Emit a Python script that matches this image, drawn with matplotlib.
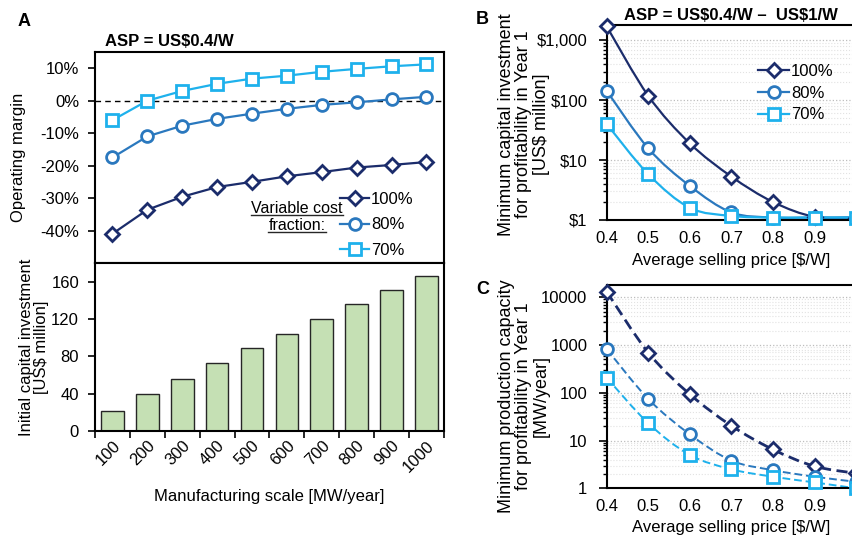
import numpy as np
import matplotlib
matplotlib.use('Agg')
import matplotlib.pyplot as plt
from matplotlib.path import Path
from matplotlib.patches import PathPatch
from matplotlib.lines import Line2D
from matplotlib.ticker import FixedLocator, FixedFormatter, LogLocator, NullFormatter

plt.rcParams['font.family'] = ['Liberation Sans', 'DejaVu Sans']
plt.rcParams['font.size'] = 12

# ---- data ----
scale = [100, 200, 300, 400, 500, 600, 700, 800, 900, 1000]
capex = [21.5, 40, 56, 73, 89, 104, 120, 136, 151, 166]
margin_100 = [-41, -33.6, -29.6, -26.6, -25, -23.3, -22, -20.6, -19.8, -18.9]
margin_80 = [-17.5, -11, -7.7, -5.6, -4, -2.5, -1.3, -0.5, 0.4, 1.2]
margin_70 = [-6, 0, 3, 5.2, 6.8, 7.7, 8.9, 9.8, 10.6, 11.2]

asp = [0.4, 0.5, 0.6, 0.7, 0.8, 0.9, 1.0]
inv_100 = [1700, 118, 19, 5.3, 2.0, 1.13, 1.1]
inv_80 = [143, 15.7, 3.7, 1.34, 1.1, 1.1, 1.1]
inv_70 = [40, 5.8, 1.6, 1.17, 1.1, 1.1, 1.1]
cap_100 = [13000, 690, 93, 20.4, 6.5, 2.9, 2.06]
cap_80 = [820, 74, 13.5, 3.8, 2.4, 1.75, 1.37]
cap_70 = [206, 23, 5.0, 2.5, 1.75, 1.33, 1.0]

labels = ['100%', '80%', '70%']
colors = ['#1B2C6B', '#2A78BE', '#1EB1EC']
markers = ['D', 'o', 's']
msizes = [7, 8.5, 8]


def smooth_log(ax, x, y, **kw):
    # excel-like smoothed line, bezier built in (x, log y) space
    x = np.asarray(x, float)
    ly = np.log10(np.asarray(y, float))
    px = np.concatenate([[x[0]], x, [x[-1]]])
    py = np.concatenate([[ly[0]], ly, [ly[-1]]])
    verts = [(x[0], ly[0])]
    codes = [Path.MOVETO]
    for i in range(len(x) - 1):
        c1 = (px[i+1] + (px[i+2] - px[i]) / 6, py[i+1] + (py[i+2] - py[i]) / 6)
        c2 = (px[i+2] - (px[i+3] - px[i+1]) / 6, py[i+2] - (py[i+3] - py[i+1]) / 6)
        verts += [c1, c2, (px[i+2], py[i+2])]
        codes += [Path.CURVE4] * 3
    verts = np.array(verts)
    verts[:, 1] = 10 ** verts[:, 1]
    ax.add_patch(PathPatch(Path(verts, codes), fill=False, **kw))


fig = plt.figure(figsize=(8.53, 5.4), dpi=100)

# ---- panel A top: operating margin ----
axA = fig.add_axes([0.1114, 0.5130, 0.409, 0.3907])
xi = np.arange(len(scale))
for m, c, mk, ms in zip([margin_100, margin_80, margin_70], colors, markers, msizes):
    axA.plot(xi, m, color=c, lw=1.6, marker=mk, ms=ms, mfc='white', mec=c, mew=2.0, zorder=3)
axA.axhline(0, color='black', ls=(0, (4, 3)), lw=1.0, zorder=1)
axA.set_xlim(-0.5, len(scale) - 0.5)
axA.set_ylim(-50, 15)
axA.set_yticks([-40, -30, -20, -10, 0, 10])
axA.set_yticklabels(['-40%', '-30%', '-20%', '-10%', '0%', '10%'])
axA.set_xticks([])
axA.tick_params(axis='y', direction='out', length=5, width=1.2, labelsize=12, pad=6.5)
axA.set_ylabel('Operating margin', fontsize=12)
axA.yaxis.set_label_coords(-0.198, 0.5)
for s in axA.spines.values():
    s.set_linewidth(1.5)

handles = [Line2D([], [], color=c, lw=1.6, marker=mk, ms=ms, mfc='white', mec=c, mew=2.0)
           for c, mk, ms in zip(colors, markers, msizes)]
axA.legend(handles, labels, loc='upper left', bbox_to_anchor=(0.702, 0.336), frameon=False,
           handlelength=1.75, handletextpad=0.1, labelspacing=0.62, fontsize=12, borderpad=0,
           borderaxespad=0)
t1 = axA.text(0.579, 0.258, 'Variable cost', transform=axA.transAxes, ha='center', va='center', fontsize=11.5)
t2 = axA.text(0.579, 0.178, 'fraction:', transform=axA.transAxes, ha='center', va='center', fontsize=11.5)

# ---- panel A bottom: initial capital ----
axA2 = fig.add_axes([0.1114, 0.2019, 0.409, 0.3111])
axA2.bar(xi, capex, width=0.65, color='#C5E0B4', edgecolor='#262626', lw=1.0, zorder=2)
axA2.set_xlim(-0.5, len(scale) - 0.5)
axA2.set_ylim(0, 180)
axA2.set_yticks([0, 40, 80, 120, 160])
axA2.xaxis.set_major_locator(FixedLocator(xi))
axA2.xaxis.set_major_formatter(FixedFormatter([str(s) for s in scale]))
axA2.xaxis.set_minor_locator(FixedLocator(np.arange(len(scale) + 1) - 0.5))
axA2.tick_params(axis='x', which='major', length=0, labelsize=12, pad=5)
axA2.tick_params(axis='x', which='minor', direction='out', length=5, width=1.2)
plt.setp(axA2.get_xticklabels(), rotation=45, ha='right', rotation_mode='anchor')
axA2.tick_params(axis='y', direction='out', length=5, width=1.2, labelsize=12, pad=6.5)
axA2.set_ylabel('Initial capital investment\n[US\\$ million]', fontsize=12, linespacing=1.0)
axA2.yaxis.set_label_coords(-0.132, 0.5)
axA2.set_xlabel('Manufacturing scale [MW/year]', fontsize=12, labelpad=10)
for s in axA2.spines.values():
    s.set_linewidth(1.5)


def log_grid(ax):
    ax.yaxis.set_minor_locator(LogLocator(base=10, subs=np.arange(2, 10)))
    ax.yaxis.set_minor_formatter(NullFormatter())
    ax.grid(True, which='major', axis='y', color='#BDBDBD', ls=':', lw=0.9)
    ax.grid(True, which='minor', axis='y', color='#E2E2E2', ls=':', lw=0.8)
    ax.set_axisbelow(True)
    ax.set_xlim(0.4, 1.0)
    ax.set_xticks(asp)
    ax.set_xticklabels(['0.4', '0.5', '0.6', '0.7', '0.8', '0.9', '1'])
    ax.tick_params(axis='x', length=0, labelsize=12, pad=8)
    ax.tick_params(axis='y', which='major', direction='out', length=6, width=1.2, labelsize=12, pad=8)
    ax.tick_params(axis='y', which='minor', direction='out', length=3, width=1.0)
    for s in ax.spines.values():
        s.set_linewidth(1.5)


# ---- panel B ----
axB = fig.add_axes([0.7113, 0.5926, 0.2923, 0.3611])
axB.set_yscale('log')
for d, c, mk, ms in zip([inv_100, inv_80, inv_70], colors, markers, msizes):
    smooth_log(axB, asp, d, edgecolor=c, lw=1.6, zorder=2)
    axB.plot(asp, d, ls='none', marker=mk, ms=ms, mfc='white', mec=c, mew=2.0, zorder=3, clip_on=False)
axB.set_ylim(1, 1800)
log_grid(axB)
axB.set_yticks([1, 10, 100, 1000])
axB.set_yticklabels(['\\$1', '\\$10', '\\$100', '\\$1,000'])
axB.set_ylabel('Minimum capital investment\nfor profitability in Year 1\n[US\\$ million]',
               fontsize=13, linespacing=1.05)
axB.yaxis.set_label_coords(-0.228, 0.49)
axB.set_xlabel('Average selling price [\\$/W]', fontsize=12, labelpad=5)
axB.legend(handles, labels, loc='upper left', bbox_to_anchor=(0.608, 0.80), frameon=False,
           handlelength=1.85, handletextpad=0.1, labelspacing=0.40, fontsize=12, borderpad=0,
           borderaxespad=0)

# ---- panel C ----
axC = fig.add_axes([0.7113, 0.0957, 0.2923, 0.3765])
axC.set_yscale('log')
for d, c, mk, ms, lw in zip([cap_100, cap_80, cap_70], colors, markers, msizes, [2.0, 1.4, 1.4]):
    smooth_log(axC, asp, d, edgecolor=c, lw=lw, ls=(0, (4, 2)), zorder=2)
    axC.plot(asp, d, ls='none', marker=mk, ms=ms, mfc='white', mec=c, mew=2.0, zorder=3, clip_on=False)
axC.set_ylim(1, 18000)
log_grid(axC)
axC.set_yticks([1, 10, 100, 1000, 10000])
axC.set_yticklabels(['1', '10', '100', '1000', '10000'])
axC.set_ylabel('Minimum production capacity\nfor profitability in Year 1\n[MW/year]',
               fontsize=13, linespacing=1.05)
axC.yaxis.set_label_coords(-0.228, 0.455)
axC.set_xlabel('Average selling price [\\$/W]', fontsize=12, labelpad=4)

# ---- titles / panel letters ----
fig.text(105 / 853, 1 - 42 / 540, 'ASP = US\\$0.4/W', fontsize=12, fontweight='bold', va='center')
fig.text(731 / 853, 1 - 15 / 540, 'ASP = US\\$0.4/W \u2013  US\\$1/W', fontsize=12,
         fontweight='bold', va='center', ha='center')
fig.text(18 / 853, 1 - 22 / 540, 'A', fontsize=13, fontweight='bold', va='center')
fig.text(476 / 853, 1 - 20 / 540, 'B', fontsize=13, fontweight='bold', va='center')
fig.text(476 / 853, 1 - 290 / 540, 'C', fontsize=13, fontweight='bold', va='center')

# underline the legend caption
fig.canvas.draw()
inv = fig.transFigure.inverted()
for t in [t1, t2]:
    bb = t.get_window_extent()
    (x0, y0), (x1, _) = inv.transform([(bb.x0, bb.y0 + 1), (bb.x1, bb.y0 + 1)])
    fig.add_artist(Line2D([x0, x1], [y0, y0], color='#262626', lw=1.0, transform=fig.transFigure))

fig.savefig('out.png', dpi=100)
